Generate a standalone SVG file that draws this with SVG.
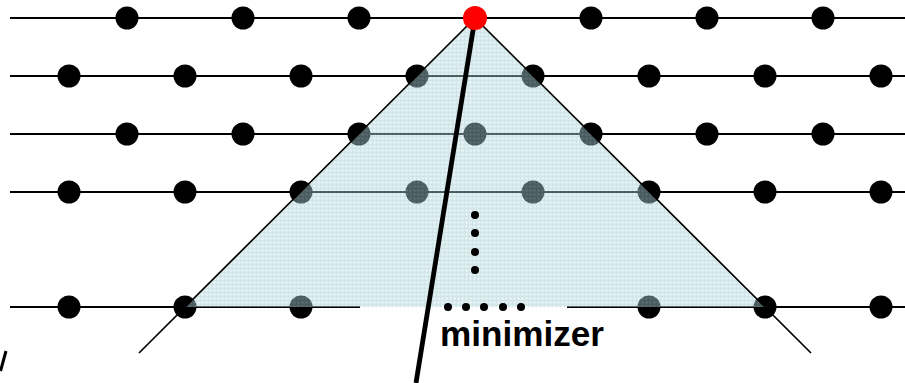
<svg xmlns="http://www.w3.org/2000/svg" width="905" height="383" viewBox="0 0 905 383">
  <defs>
    <style>
      .row { stroke: #000; stroke-width: 1.8; fill: none; }
      .dot { fill: #000; }
      .small { fill: #000; }
      .edge { stroke: #000; stroke-width: 1.7; fill: none; }
      .label { font-family: "Liberation Sans", Arial, sans-serif; font-weight: bold; font-size: 35px; fill: #000; }
    </style>
    <pattern id="grid" width="4" height="4" patternUnits="userSpaceOnUse">
      <rect width="4" height="4" fill="#b4d6dc"/>
      <path d="M0 0.5H4M0.5 0V4" stroke="#98c8d0" stroke-width="1"/>
      <rect x="2" y="2" width="1" height="1" fill="#f2fafb"/>
    </pattern>
  </defs>
  <rect width="905" height="383" fill="#fff"/>

  <g id="rows">
    <line class="row" x1="10" y1="18" x2="905" y2="18"/>
    <line class="row" x1="10" y1="76" x2="905" y2="76"/>
    <line class="row" x1="10" y1="134" x2="905" y2="134"/>
    <line class="row" x1="10" y1="192" x2="905" y2="192"/>
    <line class="row" x1="10" y1="307" x2="360" y2="307"/>
    <line class="row" x1="567" y1="307" x2="905" y2="307"/>
  </g>

  <g id="lattice-dots">
    <g id="row1">
      <circle class="dot" cx="127" cy="18" r="11.5"/>
      <circle class="dot" cx="243" cy="18" r="11.5"/>
      <circle class="dot" cx="359" cy="18" r="11.5"/>
      <circle class="dot" cx="591" cy="18" r="11.5"/>
      <circle class="dot" cx="707" cy="18" r="11.5"/>
      <circle class="dot" cx="823" cy="18" r="11.5"/>
    </g>
    <g id="row2">
      <circle class="dot" cx="69" cy="76" r="11.5"/>
      <circle class="dot" cx="185" cy="76" r="11.5"/>
      <circle class="dot" cx="301" cy="76" r="11.5"/>
      <circle class="dot" cx="417" cy="76" r="11.5"/>
      <circle class="dot" cx="533" cy="76" r="11.5"/>
      <circle class="dot" cx="649" cy="76" r="11.5"/>
      <circle class="dot" cx="765" cy="76" r="11.5"/>
      <circle class="dot" cx="881" cy="76" r="11.5"/>
    </g>
    <g id="row3">
      <circle class="dot" cx="127" cy="134" r="11.5"/>
      <circle class="dot" cx="243" cy="134" r="11.5"/>
      <circle class="dot" cx="359" cy="134" r="11.5"/>
      <circle class="dot" cx="475" cy="134" r="11.5"/>
      <circle class="dot" cx="591" cy="134" r="11.5"/>
      <circle class="dot" cx="707" cy="134" r="11.5"/>
      <circle class="dot" cx="823" cy="134" r="11.5"/>
    </g>
    <g id="row4">
      <circle class="dot" cx="69" cy="192" r="11.5"/>
      <circle class="dot" cx="185" cy="192" r="11.5"/>
      <circle class="dot" cx="301" cy="192" r="11.5"/>
      <circle class="dot" cx="417" cy="192" r="11.5"/>
      <circle class="dot" cx="533" cy="192" r="11.5"/>
      <circle class="dot" cx="649" cy="192" r="11.5"/>
      <circle class="dot" cx="765" cy="192" r="11.5"/>
      <circle class="dot" cx="881" cy="192" r="11.5"/>
    </g>
    <g id="row5">
      <circle class="dot" cx="69" cy="307" r="11.5"/>
      <circle class="dot" cx="185" cy="307" r="11.5"/>
      <circle class="dot" cx="301" cy="307" r="11.5"/>
      <circle class="dot" cx="649" cy="307" r="11.5"/>
      <circle class="dot" cx="765" cy="307" r="11.5"/>
      <circle class="dot" cx="881" cy="307" r="11.5"/>
    </g>
  </g>

  <g id="cone-fill">
    <polygon points="475,18 185,307 765,307" fill="url(#grid)" opacity="0.46"/>
  </g>

  <g id="connectors">
    <line class="edge" x1="139" y1="353" x2="475" y2="18"/>
    <line class="edge" x1="475" y1="18" x2="811" y2="353"/>
    <line x1="475" y1="18" x2="416" y2="383" stroke="#000" stroke-width="4.8"/>
    <line x1="6" y1="351" x2="0.5" y2="371" stroke="#000" stroke-width="3"/>
  </g>

  <g id="ellipsis">
    <circle class="small" cx="475" cy="215" r="4"/>
    <circle class="small" cx="475" cy="233" r="4"/>
    <circle class="small" cx="475" cy="252" r="4"/>
    <circle class="small" cx="475" cy="270" r="4"/>
    <circle class="small" cx="448" cy="307" r="4"/>
    <circle class="small" cx="466" cy="307" r="4"/>
    <circle class="small" cx="484" cy="307" r="4"/>
    <circle class="small" cx="503" cy="307" r="4"/>
    <circle class="small" cx="521" cy="307" r="4"/>
  </g>

  <g id="apex">
    <circle cx="475" cy="18" r="12" fill="#ff0000"/>
  </g>

  <g id="minimizer-label">
    <text class="label" x="440" y="346" textLength="164" lengthAdjust="spacingAndGlyphs">minimizer</text>
  </g>
</svg>
